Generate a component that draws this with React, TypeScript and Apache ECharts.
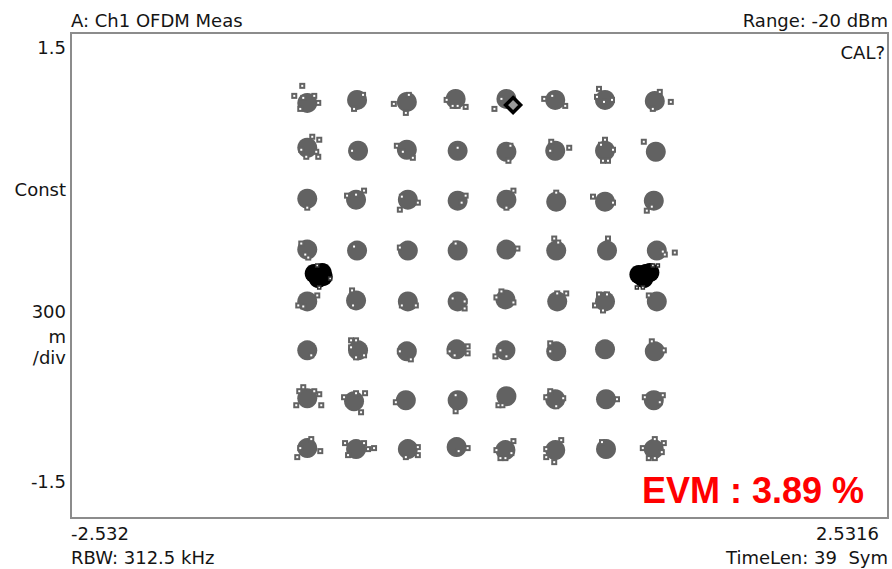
import React, { useEffect, useRef } from "react";
import * as echarts from "echarts";

// 64-QAM ideal levels (normalised)
const LEVELS = [-1.0801, -0.7715, -0.4629, -0.1543, 0.1543, 0.4629, 0.7715, 1.0801];
// error-vector unit used for the offsets below
const ERR = 0.0062;

// Cluster centre error [dI, dQ] (rows top -> bottom, cols left -> right)
const CLUSTER_ERR: number[][][] = [
  [[2, -2], [2, 1], [2, -1], [1, 2], [2, 2], [1, 1], [1, 1], [1, 0]],
  [[2, 3], [3, 0], [2, 1], [3, 0], [2, -1], [1, 0], [1, 0], [2, -1]],
  [[2, 2], [1, 1], [3, 1], [3, 0], [2, 1], [2, -1], [1, -1], [0, 0]],
  [[2, 1], [2, 0], [3, 0], [3, 0], [2, 1], [2, 0], [3, 0], [3, 0]],
  [[2, -1], [1, 0], [3, -1], [3, -1], [1, 1], [3, -1], [1, -1], [3, -1]],
  [[2, 0], [3, 0], [2, -1], [2, 1], [1, 0], [2, -1], [1, 1], [1, -1]],
  [[2, 2], [-1, -1], [1, 0], [3, 0], [2, 4], [1, 1], [2, 1], [0, 0]],
  [[2, 2], [1, 1], [3, 1], [2, 3], [1, 0], [1, 0], [2, 1], [0, 1]],
];

// Outlying symbols per cluster [dI, dQ] relative to the ideal point
const OUTLIERS: number[][][][] = [
  [
    [[-3, 15], [-11, 5], [-5, -8], [13, -2], [-2, 3], [9, 5]],
    [[-1, -8], [8, 6]],
    [[-11, -3], [1, -12], [4, 6]],
    [[-8, 1], [-2, -5], [3, -5], [11, -6]],
    [[-10, -8], [-3, 2]],
    [[-10, 2], [11, -5], [-2, 5]],
    [[-5, 12], [-7, 4], [8, 1], [0, -1]],
    [[6, 9], [17, -1], [-1, -8]],
  ],
  [
    [[7, 14], [14, 11], [-4, 1], [1, -6], [13, -6], [11, -1]],
    [[-3, 0]],
    [[-8, 5], [-2, -1], [8, -7]],
    [[3, 3]],
    [[4, -10], [6, 5]],
    [[-3, 9], [-4, 0], [15, 3]],
    [[1, 11], [-3, 6], [9, 1], [-1, -10], [4, -10]],
    [[-10, 9]],
  ],
  [
    [[2, -7]],
    [[-8, 5], [9, 10], [1, 6]],
    [[-5, -9], [13, -2], [-3, 4]],
    [[11, 5], [7, -2]],
    [[9, 10], [2, -7]],
    [[2, 8]],
    [[-11, 4], [9, -2]],
    [[-7, -10], [-2, -6]],
  ],
  [
    [[-4, 7], [0, -4], [3, -7]],
    [[-1, 4]],
    [[-5, 3]],
    [[1, 7]],
    [[13, 2]],
    [[0, 12], [4, 8]],
    [[4, 12]],
    [[21, -2], [9, -1], [11, -4]],
  ],
  [
    [[12, 5], [-7, -5], [-2, -6]],
    [[-3, 10], [-2, -5]],
    [[11, -5], [-3, -5]],
    [[10, -1], [10, -8], [-2, 2]],
    [[-8, 3], [-3, 9], [9, -2]],
    [[3, 7], [12, 7]],
    [[-5, 6], [3, 6], [-9, -5], [-1, -10]],
    [[-5, 5]],
  ],
  [
    [[6, -5]],
    [[-4, 10], [1, 10], [-4, 3], [9, -5], [1, -7]],
    [[-5, -1], [6, -9]],
    [[13, 4], [13, -3], [-5, -1], [0, -5]],
    [[-9, -6], [-4, 0], [2, -6]],
    [[-4, 7], [-4, -1]],
    [],
    [[-2, 9], [10, 0]],
  ],
  [
    [[-2, 13], [-6, 9], [9, 9], [14, 6], [16, -5], [-9, -5]],
    [[-11, 3], [1, 7], [10, 7], [6, -12]],
    [[-9, -2]],
    [[1, 5], [1, -11]],
    [[-6, -5], [-2, -5]],
    [[-4, 9], [-8, 3], [2, -6], [9, 2]],
    [[13, 1]],
    [[-9, 3], [9, 5], [6, -2]],
  ],
  [
    [[6, 11], [-5, 2], [15, -1], [-8, -7]],
    [[-10, 7], [9, 7], [19, 2], [13, 1], [-7, -5]],
    [[13, 3], [13, -5], [1, -7]],
    [[13, 2], [4, -1]],
    [[9, 9], [-8, 0], [-4, -8], [1, -8], [7, -3]],
    [[-8, 1], [-8, -7], [0, -12], [7, 10]],
    [[-2, 8]],
    [[-11, 2], [1, 11], [10, 7], [-5, -8], [1, -8], [8, -2]],
  ],
];

// BPSK pilots
const PILOT_LEVELS = [-1, 1];
const PILOT_BODY: number[][][] = [
  [[0, 0], [-4, 2], [4, 3], [0, -3], [5, -1]],
  [[0, 0], [5, 2], [9, 3], [3, -3], [-2, 1]],
];
const PILOT_OUTLIERS: number[][][] = [
  [[-1, 10], [12, -3], [1, -12]],
  [[12, 10], [17, 10], [-4, -12], [2, -12]],
];

// highlighted symbol marker
const MARKER = [0.208, 1.054];

const X_RANGE = [-2.532, 2.5316];
const Y_RANGE = [-1.5, 1.5];

const FONT = "DejaVu Sans";
const TXT = "#141414";
const GRAY = "#626262";

export default function App() {
  const ref = useRef<HTMLDivElement>(null);
  useEffect(() => {
    if (!ref.current) return;
    const chart = echarts.init(ref.current, undefined, { renderer: "svg" });

    const body: number[][] = [];
    const halos: number[][] = [];
    const outl: number[][] = [];
    for (let r = 0; r < 8; r++) {
      const q = LEVELS[7 - r];
      for (let c = 0; c < 8; c++) {
        const i = LEVELS[c];
        const e = CLUSTER_ERR[r][c];
        body.push([i + e[0] * ERR, q + e[1] * ERR]);
        for (const o of OUTLIERS[r][c]) {
          const p = [i + o[0] * ERR, q + o[1] * ERR];
          halos.push(p);
          outl.push(p);
        }
      }
    }
    const pBody: number[][] = [];
    const pOut: number[][] = [];
    PILOT_LEVELS.forEach((lv, k) => {
      for (const b of PILOT_BODY[k]) pBody.push([lv + b[0] * ERR, b[1] * ERR]);
      for (const o of PILOT_OUTLIERS[k]) pOut.push([lv + o[0] * ERR, o[1] * ERR]);
    });

    const t = (text: string, x: number, y: number, align: string, extra: any = {}) => ({
      type: "text",
      x,
      y,
      style: {
        text,
        fill: TXT,
        font: `18px "${FONT}"`,
        textAlign: align,
        textVerticalAlign: "middle",
        ...extra,
      },
    });

    chart.setOption({
      animation: false,
      backgroundColor: "#ffffff",
      grid: {
        left: 71,
        right: 4,
        top: 33,
        bottom: 51,
        show: true,
        borderColor: "#8c8c8c",
        borderWidth: 2,
        backgroundColor: "transparent",
      },
      xAxis: {
        type: "value",
        min: X_RANGE[0],
        max: X_RANGE[1],
        show: false,
        splitLine: { show: false },
      },
      yAxis: {
        type: "value",
        min: Y_RANGE[0],
        max: Y_RANGE[1],
        show: false,
        splitLine: { show: false },
      },
      series: [
        {
          type: "scatter",
          data: body,
          symbol: "circle",
          symbolSize: 20,
          itemStyle: { color: GRAY, opacity: 1 },
          z: 2,
        },
        {
          type: "scatter",
          data: halos,
          symbol: "rect",
          symbolSize: 6,
          itemStyle: { color: GRAY, opacity: 1 },
          z: 2,
        },
        {
          type: "scatter",
          data: pBody,
          symbol: "circle",
          symbolSize: 19,
          itemStyle: { color: "#000000", opacity: 1 },
          z: 3,
        },
        {
          type: "scatter",
          data: outl,
          symbol: "rect",
          symbolSize: 2,
          itemStyle: { color: "#ffffff", opacity: 1 },
          z: 4,
        },
        {
          type: "scatter",
          data: pOut,
          symbol: "rect",
          symbolSize: 3,
          itemStyle: { color: "#ffffff", borderColor: "#303030", borderWidth: 1.5, opacity: 1 },
          z: 4,
        },
        {
          type: "scatter",
          data: [MARKER],
          symbol: "diamond",
          symbolSize: 15,
          itemStyle: { color: "#9a9a9a", borderColor: "#000000", borderWidth: 3.5, opacity: 1 },
          z: 5,
        },
      ],
      graphic: [
        t("A: Ch1 OFDM Meas", 71, 20, "left"),
        t("Range: -20 dBm", 888, 20, "right"),
        t("CAL?", 885, 52, "right"),
        t("1.5", 66, 47, "right"),
        t("Const", 66, 189, "right"),
        t("300", 66, 311, "right"),
        t("m", 66, 336, "right"),
        t("/div", 66, 357, "right"),
        t("-1.5", 66, 481, "right"),
        t("-2.532", 71, 533, "left"),
        t("RBW: 312.5 kHz", 71, 557, "left"),
        t("2.5316", 879, 533, "right"),
        t("TimeLen: 39  Sym", 888, 557, "right"),
        t("EVM : 3.89 %", 864, 490, "right", {
          fill: "#ff0000",
          font: 'bold 36px "Liberation Sans"',
        }),
      ],
    });
    return () => chart.dispose();
  }, []);
  return (
    <div
      ref={ref}
      style={{ position: "fixed", left: 0, top: 0, width: 892, height: 569, background: "#fff" }}
    />
  );
}
